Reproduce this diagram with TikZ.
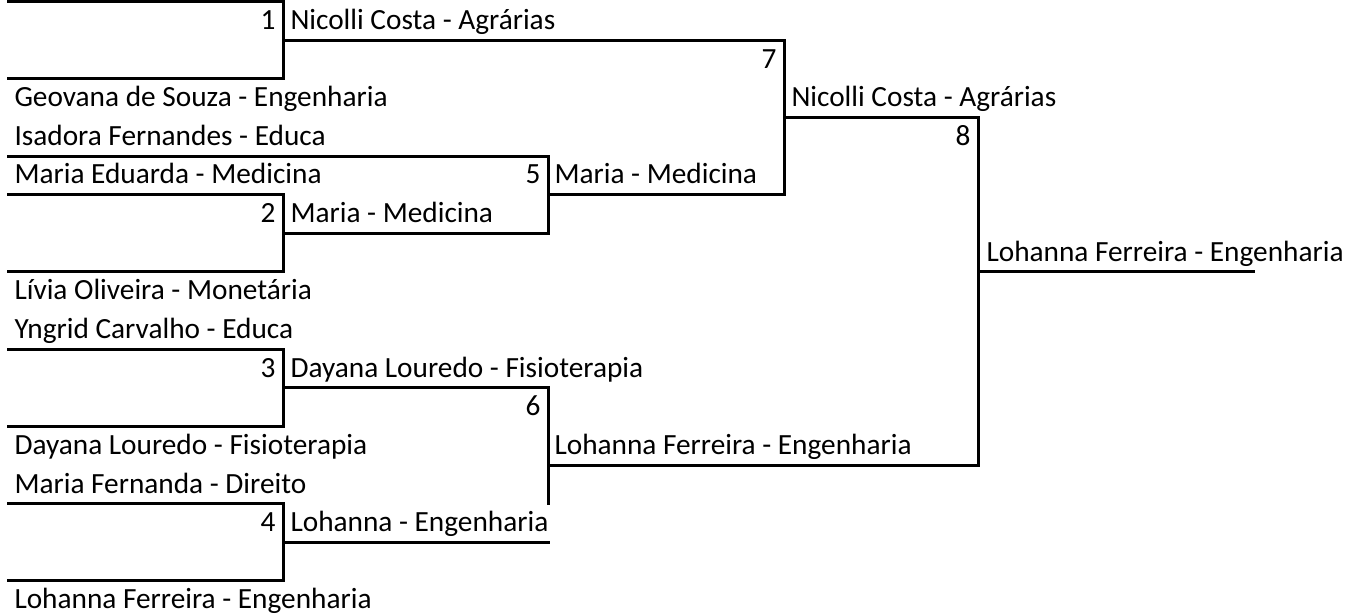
\documentclass[tikz,border=0pt]{standalone}
\usepackage{fontspec}
\setmainfont{Carlito}
\usetikzlibrary{positioning}
\tikzset{
bracket/.style={line width=3pt, line cap=rect}, % thick borders like the sheet
team/.style={anchor=base west, inner sep=0pt, font=\fontsize{29.3}{35}\selectfont}, % name of a player
game/.style={anchor=base east, inner sep=0pt, font=\fontsize{29.3}{35}\selectfont}, % number of a match
}

\begin{document}
\begin{tikzpicture}[x=1pt, y=-38.63pt, yshift=-1.5pt, every path/.append style={bracket}]

\useasboundingbox (0,-0.0388) rectangle (1346,15.907);

% first round
\node[team] at (13,2.723) (a1) {Geovana de Souza - Engenharia};
\node[team] at (13,3.723) (a2) {Isadora Fernandes - Educa};
\node[team] at (13,4.723) (a3) {Maria Eduarda - Medicina};
\node[team] at (13,7.723) (a4) {Lívia Oliveira - Monetária};
\node[team] at (13,8.723) (a5) {Yngrid Carvalho - Educa};
\node[team] at (13,11.723) (a6) {Dayana Louredo - Fisioterapia};
\node[team] at (13,12.723) (a7) {Maria Fernanda - Direito};
\node[team] at (13,15.723) (a8) {Lohanna Ferreira - Engenharia};

\node[game] at (277,0.723) (g1) {1};
\node[game] at (277,5.723) (g2) {2};
\node[game] at (277,9.723) (g3) {3};
\node[game] at (277,13.723) (g4) {4};
\node[team] at (289,0.723) (b1) {Nicolli Costa - Agrárias};
\node[team] at (289,5.723) (b2) {Maria - Medicina};
\node[team] at (289,9.723) (b3) {Dayana Louredo - Fisioterapia};
\node[team] at (289,13.723) (b4) {Lohanna - Engenharia};

% second round
\node[game] at (542,4.723) (g5) {5};
\node[game] at (542,10.723) (g6) {6};
\node[team] at (553,4.723) (c1) {Maria - Medicina};
\node[team] at (553,11.723) (c2) {Lohanna Ferreira - Engenharia};

\node[game] at (778,1.723) (g7) {7};
\node[team] at (790,2.723) (d1) {Nicolli Costa - Agrárias};

\node[game] at (972,3.723) (g8) {8};
\node[team] at (985,6.723) (e1) {Lohanna Ferreira - Engenharia};

% brackets
\draw (8,0) -- (283,0) -- (283,2) -- (8,2);
\draw (283,1) -- (784,1) -- (784,5) -- (548,5);
\draw (8,4) -- (548,4) -- (548,6);
\draw (8,5) -- (283,5) -- (283,7) -- (8,7);
\draw (283,6) -- (548,6);
\draw (8,9) -- (283,9) -- (283,11) -- (8,11);
\draw (283,10) -- (548,10) -- (548,13);
\draw (8,13) -- (283,13) -- (283,15) -- (8,15);
\draw (283,14) -- (548,14);
\draw (784,3) -- (978,3) -- (978,12) -- (548,12);
\draw (978,7) -- (1253,7);

\end{tikzpicture}
\end{document}
